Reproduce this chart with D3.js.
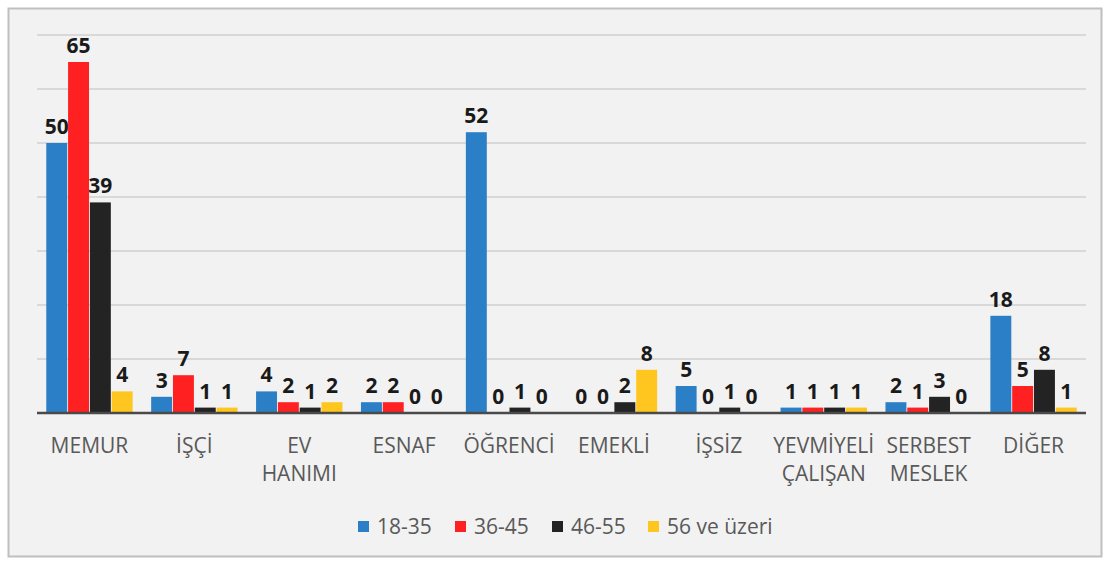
<html>
<head>
<title>d3</title>
</head>
<script src="https://d3js.org/d3.v7.min.js"></script>
<body style="margin:0;background:#fff">
<svg class="bar-chart"></svg>
<script>
    var categories = ["MEMUR", "İŞÇİ", "EV HANIMI", "ESNAF", "ÖĞRENCİ", "EMEKLİ", "İŞSİZ", "YEVMİYELİ ÇALIŞAN", "SERBEST MESLEK", "DİĞER"];
    var seriesNames = ["18-35", "36-45", "46-55", "56 ve üzeri"];
    var s1835 = [50, 3, 4, 2, 52, 0, 5, 1, 2, 18];
    var s3645 = [65, 7, 2, 2, 0, 0, 0, 1, 1, 5];
    var s4655 = [39, 1, 1, 0, 1, 2, 1, 1, 3, 8];
    var s56 = [4, 1, 2, 0, 0, 8, 0, 1, 0, 1];
    var yTicks = [0, 10, 20, 30, 40, 50, 60, 70];

    var series = [s1835, s3645, s4655, s56];
    var colors = ["#2a7fc6", "#ff2121", "#232323", "#ffc61f"];
    var svgWidth = 1110, svgHeight = 565;
    var plotLeft = 37, plotRight = 1086, plotTop = 35, plotBottom = 413;

    var svg = d3.select('svg')
        .attr('width', svgWidth)
        .attr('height', svgHeight)
        .style('font-family', '"Open Sans", sans-serif');

    svg.append('rect')
        .attr('x', 8.5).attr('y', 8.5)
        .attr('width', 1093).attr('height', 548)
        .attr('fill', '#f2f2f2')
        .attr('stroke', '#bfbfbf')
        .attr('stroke-width', 2);

    var x0 = d3.scaleBand().domain(categories).range([plotLeft, plotRight]).paddingInner(0.16).paddingOuter(0.08);
    var x1 = d3.scaleBand().domain(d3.range(series.length)).range([0, x0.bandwidth()]).padding(0.04);
    var y = d3.scaleLinear().domain([0, 70]).range([plotBottom, plotTop]);

    svg.selectAll('line.grid')
        .data(yTicks.slice(1))
        .enter().append('line')
        .attr('class', 'grid')
        .attr('x1', plotLeft).attr('x2', plotRight)
        .attr('y1', function (d) { return y(d); })
        .attr('y2', function (d) { return y(d); })
        .attr('stroke', '#d9d9d9')
        .attr('stroke-width', 2);

    var groups = svg.selectAll('g.ser')
        .data(series)
        .enter().append('g')
        .attr('class', 'ser');

    groups.each(function (vals, si) {
        var g = d3.select(this);
        g.selectAll('rect')
            .data(vals)
            .enter().append('rect')
            .attr('x', function (d, i) { return x0(categories[i]) + x1(si); })
            .attr('y', function (d) { return y(d); })
            .attr('width', x1.bandwidth())
            .attr('height', function (d) { return plotBottom - y(d); })
            .attr('fill', colors[si]);
        g.selectAll('text')
            .data(vals)
            .enter().append('text')
            .text(function (d) { return d; })
            .attr('x', function (d, i) { return x0(categories[i]) + x1(si) + x1.bandwidth() / 2; })
            .attr('y', function (d) { return y(d) - 9; })
            .attr('text-anchor', 'middle')
            .attr('font-size', 21)
            .attr('font-weight', 'bold')
            .attr('fill', '#1a1a1a');
    });

    svg.append('line')
        .attr('x1', plotLeft).attr('x2', plotRight)
        .attr('y1', plotBottom).attr('y2', plotBottom)
        .attr('stroke', '#4a4a4a')
        .attr('stroke-width', 2.5);

    var xAxis = svg.append('g');
    categories.forEach(function (c) {
        var words = c.split(' ');
        var t = xAxis.append('text')
            .attr('x', x0(c) + x0.bandwidth() / 2)
            .attr('y', 453)
            .attr('text-anchor', 'middle')
            .attr('font-size', 21)
            .attr('fill', '#595959');
        words.forEach(function (w, i) {
            t.append('tspan')
                .attr('x', x0(c) + x0.bandwidth() / 2)
                .attr('dy', i === 0 ? 0 : 28)
                .text(w);
        });
    });

    var legendX = [358, 455, 552, 648];
    var legend = svg.selectAll('g.leg')
        .data(seriesNames)
        .enter().append('g')
        .attr('class', 'leg')
        .attr('transform', function (d, i) { return 'translate(' + legendX[i] + ',527)'; });
    legend.append('rect')
        .attr('x', 0).attr('y', -6)
        .attr('width', 11).attr('height', 11)
        .attr('fill', function (d, i) { return colors[i]; });
    legend.append('text')
        .text(function (d) { return d; })
        .attr('x', 19).attr('y', 7)
        .attr('font-size', 21)
        .attr('fill', '#595959');
</script>
</body>
</html>
